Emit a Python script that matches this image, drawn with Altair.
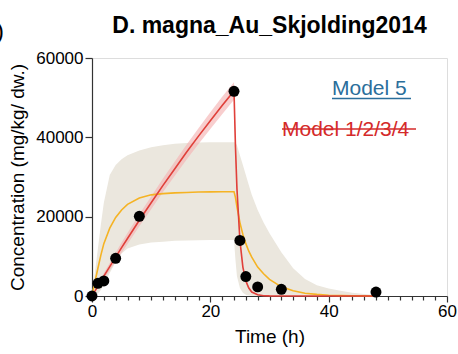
import altair as alt
import pandas as pd

# ---- observed data (Time h, concentration mg/kg dw) ----
obs_t = [0, 1, 2, 4, 8, 24, 25, 26, 28, 32, 48]
obs_c = [0, 3200, 3800, 9500, 20100, 51600, 14000, 4900, 2300, 1700, 1000]

# ---- model curves ----
t = [0, 0.5, 1, 1.5, 2, 3, 4, 5, 6, 8, 10, 12, 14, 16, 18, 20, 22, 24,
     24.25, 24.5, 25, 25.5, 26, 26.5, 27, 28, 29, 30, 32, 34, 36, 38, 40,
     42, 44, 46, 48]

# Model 5 (yellow line and beige band)
m5 = [0, 3600, 7000, 10300, 13200, 17100, 19800, 21700, 23100, 24700, 25500,
      25800, 26000, 26100, 26200, 26250, 26300, 26300,
      24800, 22500, 18500, 15500, 13200, 11300, 9800, 7300, 5600, 4200, 2300,
      1300, 700, 400, 200, 100, 50, 20, 0]
m5_lo = [0, 150, 600, 1500, 2800, 5800, 8600, 10700, 12000, 13000, 13500,
         13700, 13900, 14000, 14050, 14100, 14100, 14100,
         9000, 5000, 2000, 800, 300, 120, 50, 0, 0, 0, 0,
         0, 0, 0, 0, 0, 0, 0, 0]
m5_hi = [0, 6000, 12000, 18000, 23500, 30500, 33000, 34500, 35500, 36700, 37500,
         38000, 38400, 38600, 38700, 38750, 38750, 38750,
         38700, 38000, 35500, 33000, 30500, 28000, 25500, 21700, 18500, 15800, 11000,
         7000, 4300, 2700, 1900, 1300, 800, 500, 200]

# Models 1/2/3/4 (red line and pink band)
m14 = [0, 1250, 2500, 3750, 5000, 7400, 9800, 12200, 14500, 19100, 23500,
       27900, 32100, 36300, 40300, 44200, 48000, 51700,
       37500, 27000, 14000, 7300, 3800, 2000, 1000, 300, 80, 20, 0,
       0, 0, 0, 0, 0, 0, 0, 0]
m14_lo = [0, 1000, 2100, 3200, 4200, 6500, 8700, 10900, 13100, 17600, 21900,
          26200, 30300, 34400, 38300, 42100, 45800, 49500,
          35500, 25500, 13000, 6700, 3400, 1700, 800, 200, 50, 10, 0,
          0, 0, 0, 0, 0, 0, 0, 0]
m14_hi = [0, 1500, 2900, 4300, 5800, 8300, 10900, 13500, 15900, 20600, 25100,
          29600, 33900, 38200, 42300, 46300, 50200, 53900,
          39500, 28500, 15000, 7900, 4200, 2300, 1200, 400, 120, 30, 0,
          0, 0, 0, 0, 0, 0, 0, 0]

x_ticks = list(range(0, 61, 2))
y_ticks = [0, 20000, 40000, 60000]

curves = pd.DataFrame({"t": t, "m5": m5, "m5_lo": m5_lo, "m5_hi": m5_hi,
                       "m14": m14, "m14_lo": m14_lo, "m14_hi": m14_hi})
points = pd.DataFrame({"t": obs_t, "c": obs_c})

FONT = "Liberation Sans"
AX = "#333333"

x_axis = alt.Axis(
    title="Time (h)", values=x_ticks, grid=False,
    labelExpr="datum.value % 20 === 0 ? datum.label : ''",
    tickSize={"condition": {"test": "datum.value % 20 === 0", "value": 6}, "value": 4},
    labelOverlap=False, labelFlush=False, labelPadding=1,
    labelFontSize=17, titleFontSize=19, labelFont=FONT, titleFont=FONT,
    titleFontWeight="normal", labelColor="black", titleColor="black",
    domainColor=AX, tickColor=AX, domainWidth=1.2, tickWidth=1.2,
    titlePadding=8,
)
y_axis = alt.Axis(
    title="Concentration (mg/kg/ dw.)", values=y_ticks, format="d", grid=False,
    tickSize=7, labelPadding=2, labelFlush=False, labelOverlap=False,
    labelFontSize=17, titleFontSize=19, labelFont=FONT, titleFont=FONT,
    titleFontWeight="normal", labelColor="black", titleColor="black",
    domainColor=AX, tickColor=AX, domainWidth=1.2, tickWidth=1.2,
    titlePadding=8,
)
xs = alt.Scale(domain=[0, 60], nice=False)
ys = alt.Scale(domain=[0, 60000], nice=False)


def X():
    return alt.X("t:Q", scale=xs, axis=x_axis)


def Y(field):
    return alt.Y(field, scale=ys, axis=y_axis)


band5 = alt.Chart(curves).mark_area(color="#ebe7de", opacity=1).encode(
    x=X(), y=Y("m5_hi:Q"), y2="m5_lo:Q")
band14 = alt.Chart(curves).mark_area(color="#f4b4b4", opacity=0.65).encode(
    x=X(), y=Y("m14_hi:Q"), y2="m14_lo:Q")
line5 = alt.Chart(curves).mark_line(color="#f5b324", strokeWidth=1.6).encode(
    x=X(), y=Y("m5:Q"))
line14 = alt.Chart(curves).mark_line(color="#e0403a", strokeWidth=1.6).encode(
    x=X(), y=Y("m14:Q"))
pts = alt.Chart(points).mark_circle(color="black", opacity=1, size=120).encode(
    x=X(), y=Y("c:Q"))

one = alt.Data(values=[{"k": 1}])
txt5 = alt.Chart(one).mark_text(
    text="Model 5", font=FONT, fontSize=21, color="#2a6e9b", align="left",
    baseline="alphabetic").encode(x=alt.value(240), y=alt.value(36.5))
under5 = alt.Chart(one).mark_rule(color="#2a6e9b", strokeWidth=1.5).encode(
    x=alt.value(240), x2=alt.value(319), y=alt.value(40.5))
txt14 = alt.Chart(one).mark_text(
    text="Model 1/2/3/4", font=FONT, fontSize=21, color="#d42a2a", align="left",
    baseline="alphabetic").encode(x=alt.value(190), y=alt.value(78))
strike14 = alt.Chart(one).mark_rule(color="#d42a2a", strokeWidth=1.6).encode(
    x=alt.value(190), x2=alt.value(324), y=alt.value(71))
paren = alt.Chart(one).mark_text(
    text=")", font=FONT, fontSize=24, color="black", align="right",
    baseline="alphabetic").encode(x=alt.value(-88), y=alt.value(-19))

chart = alt.layer(band5, band14, line5, line14, pts, txt5, under5, txt14,
                  strike14, paren).properties(
    width=355, height=238,
    autosize="none",
    padding={"left": 92, "top": 58, "right": 11, "bottom": 58},
    title=alt.TitleParams(text="D. magna_Au_Skjolding2014", font=FONT, fontSize=23,
                          fontWeight="bold", anchor="middle", color="black", offset=-18),
).configure_view(stroke=None).configure_axis(labelOverlap=False).configure(background="white")

chart.save("out.html", embed_options={"renderer": "svg", "actions": False})
